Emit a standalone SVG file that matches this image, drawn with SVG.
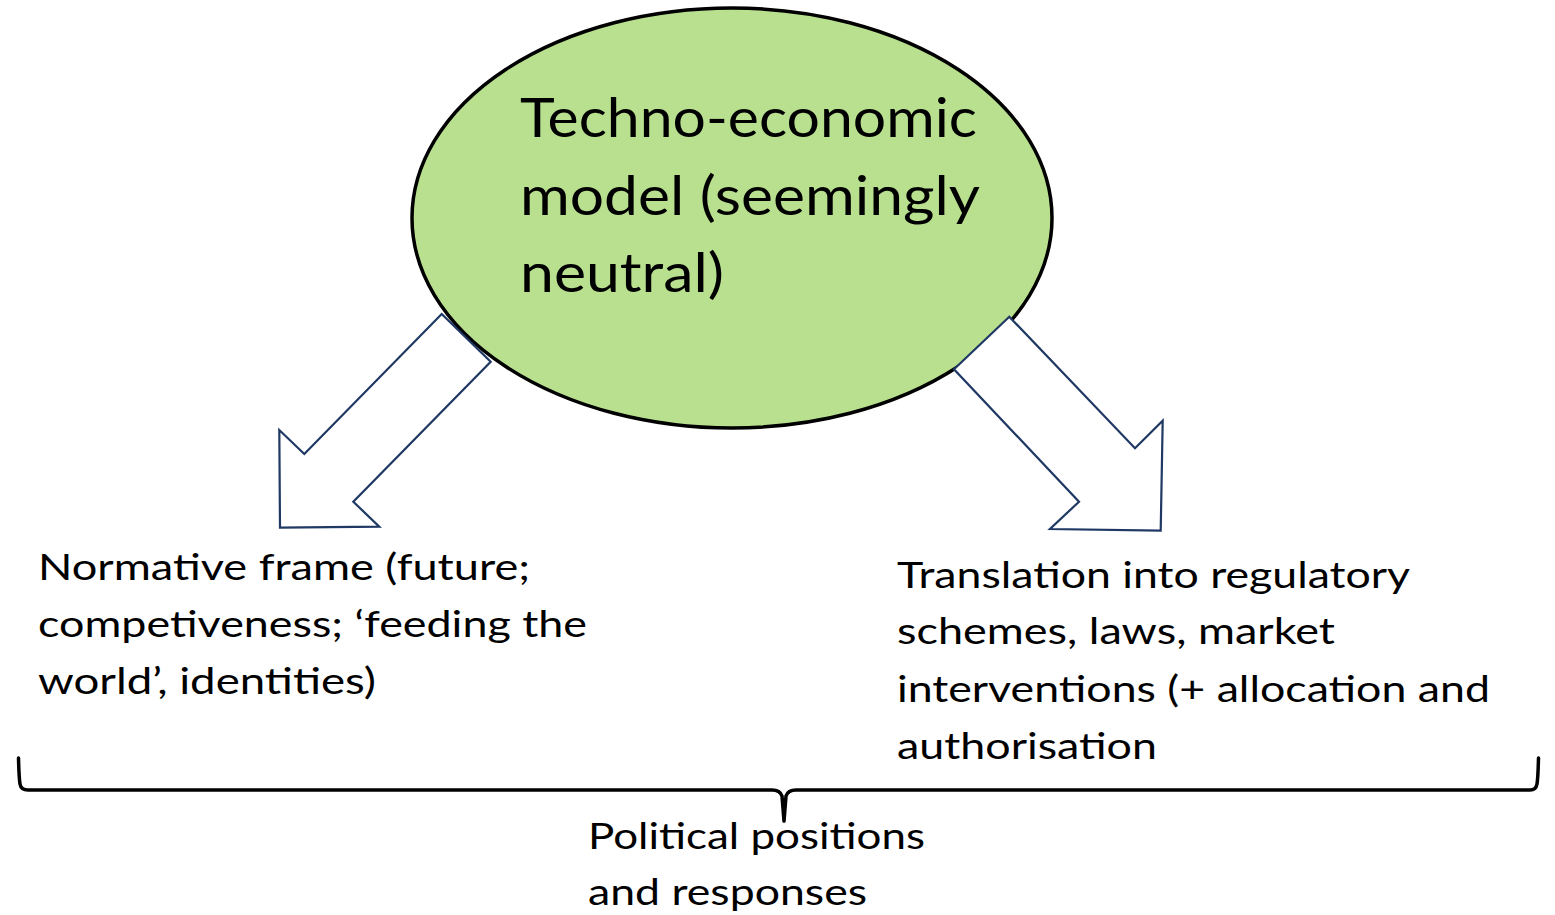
<svg xmlns="http://www.w3.org/2000/svg" width="1555" height="915" viewBox="0 0 1555 915">
<style>
.t{font-family:Lato,"Open Sans","Liberation Sans",sans-serif;fill:#000}
.big{font-size:54px}
.mid{font-size:37px}
.arr{fill:#fff;stroke:#1f3864;stroke-width:2.2;stroke-linejoin:miter}
.brace{fill:none;stroke:#000;stroke-width:3.5;stroke-linejoin:round;stroke-linecap:round}
</style>
<rect width="1555" height="915" fill="#fff"/>
<g id="model">
<ellipse cx="732" cy="218" rx="320" ry="210" fill="#b8e08f" stroke="#000" stroke-width="3.5"/>
<text class="t big" x="520" y="137" textLength="457" lengthAdjust="spacingAndGlyphs">Techno-economic</text>
<text class="t big" x="520" y="215" textLength="460" lengthAdjust="spacingAndGlyphs">model (seemingly</text>
<text class="t big" x="520" y="292" textLength="204" lengthAdjust="spacingAndGlyphs">neutral)</text>
</g>
<g id="connectors">
<polygon class="arr" points="441.7,314 490.7,361.7 353.3,501.7 379.3,526.7 280,527.7 279.3,430 304.3,454"/>
<polygon class="arr" points="1009.3,316.7 954,369.3 1079,501.7 1050,529 1160.7,530.7 1162.7,420.7 1135,448.3"/>
<path class="brace" d="M18.5,758 Q19,778 20,784 Q21,790 28,790 L772,790 Q780,790 782,796 L784,821 L786,796 Q788,790 796,790 L1530,790 Q1536,790 1537,784 Q1538,778 1538.5,758"/>
</g>
<g id="normative">
<text class="t mid" x="38" y="580" textLength="492" lengthAdjust="spacingAndGlyphs">Normative frame (future;</text>
<text class="t mid" x="38" y="637" textLength="549" lengthAdjust="spacingAndGlyphs">competiveness; ‘feeding the</text>
<text class="t mid" x="38" y="694" textLength="338" lengthAdjust="spacingAndGlyphs">world’, identities)</text>
</g>
<g id="translation">
<text class="t mid" x="897" y="588" textLength="513" lengthAdjust="spacingAndGlyphs">Translation into regulatory</text>
<text class="t mid" x="897" y="644" textLength="438" lengthAdjust="spacingAndGlyphs">schemes, laws, market</text>
<text class="t mid" x="897" y="702" textLength="593" lengthAdjust="spacingAndGlyphs">interventions (+ allocation and</text>
<text class="t mid" x="897" y="759" textLength="260" lengthAdjust="spacingAndGlyphs">authorisation</text>
</g>
<g id="political">
<text class="t mid" x="588" y="849" textLength="337" lengthAdjust="spacingAndGlyphs">Political positions</text>
<text class="t mid" x="588" y="905" textLength="279" lengthAdjust="spacingAndGlyphs">and responses</text>
</g>
</svg>
